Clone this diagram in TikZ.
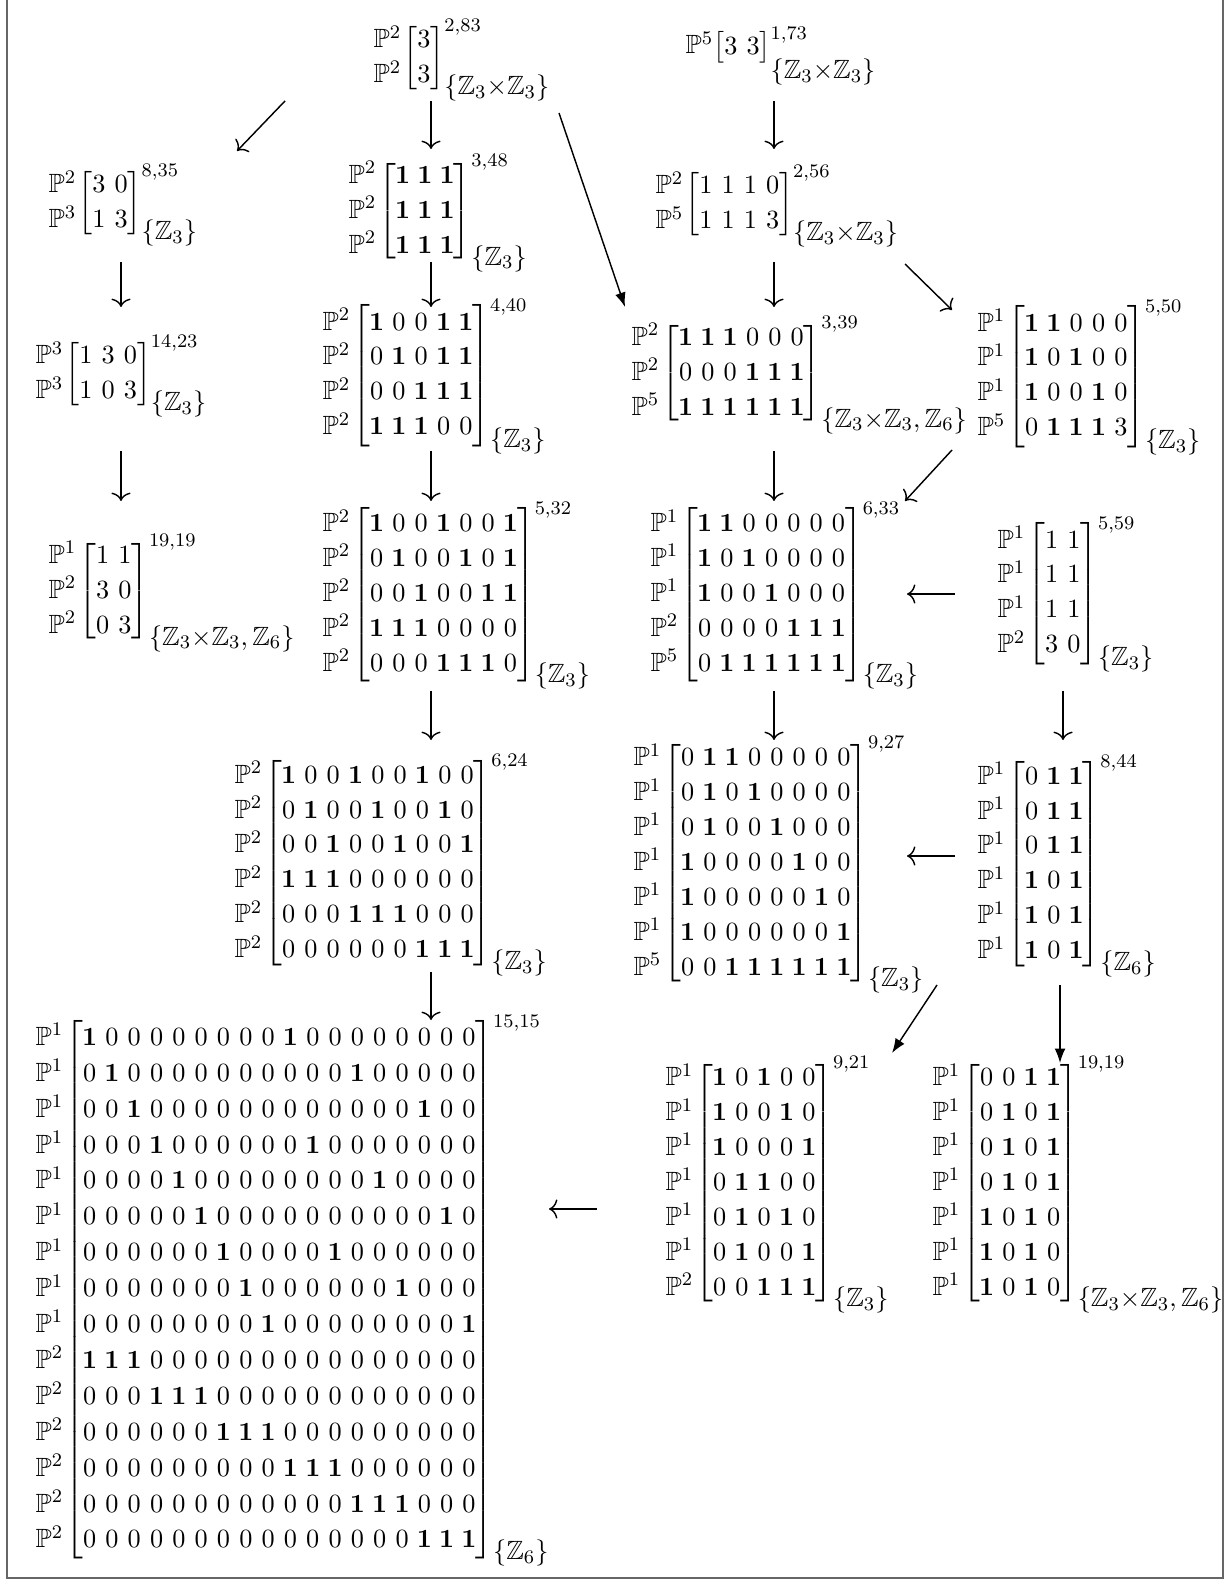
\documentclass[tikz,border=0pt]{standalone}
\usepackage{amsmath}
\usepackage{amsfonts}
\usetikzlibrary{arrows.meta}

\setcounter{MaxMatrixCols}{20}
\setlength{\arraycolsep}{1.9pt}
\renewcommand{\arraystretch}{1.07}
\newcommand{\PP}[1]{\mathbb{P}^{#1}}
\newcommand{\bone}{\hbox to .5em{\hss$\mathbf{1}$\hss}}
\newcommand{\Zt}{\mathbb{Z}_3}
\newcommand{\Zs}{\mathbb{Z}_6}
\newcommand{\cicy}[4]{$\begin{matrix}#1\end{matrix}\mkern-1.5mu\begin{bmatrix}#2\end{bmatrix}^{#3}_{\textstyle\{#4\}}$}

\begin{document}
\begin{tikzpicture}[x=0.4167pt, y=-0.4167pt, line width=0.6pt,
		>={To[length=3.5pt, width=8pt]},
		cy/.style={inner sep=0pt, anchor=base west, font=\fontsize{11pt}{13.6pt}\selectfont},
		headfill/.style={-{Latex[length=6pt, width=4.5pt]}}]
	\useasboundingbox (0,0) rectangle (1227,1579);
	\draw[black!60, line width=0.8pt] (7,-5) -- (7,1578) -- (1223,1578) -- (1223,-5);

	% first row
	\node[cy] (c283) at (373,65) {\cicy{\PP2\\\PP2}{3\\3}{2,83}{\Zt{\times}\Zt}};
	\node[cy] (c173) at (685,54) {$\PP5\bigl[\begin{matrix}3&3\end{matrix}\bigr]^{1,73}_{\textstyle\{\Zt{\times}\Zt\}\rule{0pt}{13pt}}$};

	% second row
	\node[cy] (c835) at (48,210) {\cicy{\PP2\\\PP3}{3&0\\1&3}{8,35}{\Zt}};
	\node[cy] (c348) at (348,218) {\cicy{\PP2\\\PP2\\\PP2}{\bone&\bone&\bone\\\bone&\bone&\bone\\\bone&\bone&\bone}{3,48}{\Zt}};
	\node[cy] (c256) at (655,211) {\cicy{\PP2\\\PP5}{1&1&1&0\\1&1&1&3}{2,56}{\Zt{\times}\Zt}};

	% third row
	\node[cy] (c1423) at (35,381) {\cicy{\PP3\\\PP3}{1&3&0\\1&0&3}{14,23}{\Zt}};
	\node[cy] (c440) at (322,382) {\cicy{\PP2\\\PP2\\\PP2\\\PP2}{
		\bone&0&0&\bone&\bone\\
		0&\bone&0&\bone&\bone\\
		0&0&\bone&\bone&\bone\\
		\bone&\bone&\bone&0&0}{4,40}{\Zt}};
	\node[cy] (c339) at (631,380) {\cicy{\PP2\\\PP2\\\PP5}{
		\bone&\bone&\bone&0&0&0\\
		0&0&0&\bone&\bone&\bone\\
		\bone&\bone&\bone&\bone&\bone&\bone}{3,39}{\Zt{\times}\Zt,\Zs}};
	\node[cy] (c550) at (977,383) {\cicy{\PP1\\\PP1\\\PP1\\\PP5}{
		\bone&\bone&0&0&0\\
		\bone&0&\bone&0&0\\
		\bone&0&0&\bone&0\\
		0&\bone&\bone&\bone&3}{5,50}{\Zt}};

	% fourth row
	\node[cy] (c1919) at (48,598) {\cicy{\PP1\\\PP2\\\PP2}{1&1\\3&0\\0&3}{19,19}{\Zt{\times}\Zt,\Zs}};
	\node[cy] (c532) at (322,601) {\cicy{\PP2\\\PP2\\\PP2\\\PP2\\\PP2}{
		\bone&0&0&\bone&0&0&\bone\\
		0&\bone&0&0&\bone&0&\bone\\
		0&0&\bone&0&0&\bone&\bone\\
		\bone&\bone&\bone&0&0&0&0\\
		0&0&0&\bone&\bone&\bone&0}{5,32}{\Zt}};
	\node[cy] (c633) at (650,601) {\cicy{\PP1\\\PP1\\\PP1\\\PP2\\\PP5}{
		\bone&\bone&0&0&0&0&0\\
		\bone&0&\bone&0&0&0&0\\
		\bone&0&0&\bone&0&0&0\\
		0&0&0&0&\bone&\bone&\bone\\
		0&\bone&\bone&\bone&\bone&\bone&\bone}{6,33}{\Zt}};
	\node[cy] (c559) at (997,600) {\cicy{\PP1\\\PP1\\\PP1\\\PP2}{1&1\\1&1\\1&1\\3&0}{5,59}{\Zt}};

	% fifth row
	\node[cy] (c624) at (234,870) {\cicy{\PP2\\\PP2\\\PP2\\\PP2\\\PP2\\\PP2}{
		\bone&0&0&\bone&0&0&\bone&0&0\\
		0&\bone&0&0&\bone&0&0&\bone&0\\
		0&0&\bone&0&0&\bone&0&0&\bone\\
		\bone&\bone&\bone&0&0&0&0&0&0\\
		0&0&0&\bone&\bone&\bone&0&0&0\\
		0&0&0&0&0&0&\bone&\bone&\bone}{6,24}{\Zt}};
	\node[cy] (c927) at (633,870) {\cicy{\PP1\\\PP1\\\PP1\\\PP1\\\PP1\\\PP1\\\PP5}{
		0&\bone&\bone&0&0&0&0&0\\
		0&\bone&0&\bone&0&0&0&0\\
		0&\bone&0&0&\bone&0&0&0\\
		\bone&0&0&0&0&\bone&0&0\\
		\bone&0&0&0&0&0&\bone&0\\
		\bone&0&0&0&0&0&0&\bone\\
		0&0&\bone&\bone&\bone&\bone&\bone&\bone}{9,27}{\Zt}};
	\node[cy] (c844) at (977,871) {\cicy{\PP1\\\PP1\\\PP1\\\PP1\\\PP1\\\PP1}{
		0&\bone&\bone\\0&\bone&\bone\\0&\bone&\bone\\
		\bone&0&\bone\\\bone&0&\bone\\\bone&0&\bone}{8,44}{\Zs}};

	% last row
	\node[cy] (c1515) at (35,1296) {\renewcommand{\arraystretch}{1.1}\cicy{\PP1\\\PP1\\\PP1\\\PP1\\\PP1\\\PP1\\\PP1\\\PP1\\\PP1\\\PP2\\\PP2\\\PP2\\\PP2\\\PP2\\\PP2}{
		\bone&0&0& 0&0&0& 0&0&0& \bone&0&0& 0&0&0& 0&0&0\\
		0&\bone&0& 0&0&0& 0&0&0& 0&0&0& \bone&0&0& 0&0&0\\
		0&0&\bone& 0&0&0& 0&0&0& 0&0&0& 0&0&0& \bone&0&0\\
		0&0&0& \bone&0&0& 0&0&0& 0&\bone&0& 0&0&0& 0&0&0\\
		0&0&0& 0&\bone&0& 0&0&0& 0&0&0& 0&\bone&0& 0&0&0\\
		0&0&0& 0&0&\bone& 0&0&0& 0&0&0& 0&0&0& 0&\bone&0\\
		0&0&0& 0&0&0& \bone&0&0& 0&0&\bone& 0&0&0& 0&0&0\\
		0&0&0& 0&0&0& 0&\bone&0& 0&0&0& 0&0&\bone& 0&0&0\\
		0&0&0& 0&0&0& 0&0&\bone& 0&0&0& 0&0&0& 0&0&\bone\\
		\bone&\bone&\bone& 0&0&0& 0&0&0& 0&0&0& 0&0&0& 0&0&0\\
		0&0&0& \bone&\bone&\bone& 0&0&0& 0&0&0& 0&0&0& 0&0&0\\
		0&0&0& 0&0&0& \bone&\bone&\bone& 0&0&0& 0&0&0& 0&0&0\\
		0&0&0& 0&0&0& 0&0&0& \bone&\bone&\bone& 0&0&0& 0&0&0\\
		0&0&0& 0&0&0& 0&0&0& 0&0&0& \bone&\bone&\bone& 0&0&0\\
		0&0&0& 0&0&0& 0&0&0& 0&0&0& 0&0&0& \bone&\bone&\bone}{15,15}{\Zs}};
	\node[cy] (c921) at (665,1190) {\cicy{\PP1\\\PP1\\\PP1\\\PP1\\\PP1\\\PP1\\\PP2}{
		\bone&0&\bone&0&0\\
		\bone&0&0&\bone&0\\
		\bone&0&0&0&\bone\\
		0&\bone&\bone&0&0\\
		0&\bone&0&\bone&0\\
		0&\bone&0&0&\bone\\
		0&0&\bone&\bone&\bone}{9,21}{\Zt}};
	\node[cy] (c1919b) at (932,1190) {\cicy{\PP1\\\PP1\\\PP1\\\PP1\\\PP1\\\PP1\\\PP1}{
		0&0&\bone&\bone\\
		0&\bone&0&\bone\\0&\bone&0&\bone\\0&\bone&0&\bone\\
		\bone&0&\bone&0\\\bone&0&\bone&0\\\bone&0&\bone&0}{19,19}{\Zt{\times}\Zt,\Zs}};

	% arrows
	\draw[->] ([shift={(-88,36)}]c283.base west) -- ([shift={(189,-59)}]c835.base west);
	\draw[->] ([shift={(58,36)}]c283.base west) -- ([shift={(83,-69)}]c348.base west);
	\draw[headfill] ([shift={(186,48)}]c283.base west) -- ([shift={(-6,-73)}]c339.base west);
	\draw[->] ([shift={(89,47)}]c173.base west) -- ([shift={(119,-62)}]c256.base west);
	\draw[->] ([shift={(73,52)}]c835.base west) -- ([shift={(86,-74)}]c1423.base west);
	\draw[->] ([shift={(83,44)}]c348.base west) -- ([shift={(109,-75)}]c440.base west);
	\draw[->] ([shift={(119,51)}]c256.base west) -- ([shift={(143,-73)}]c339.base west);
	\draw[->] ([shift={(250,53)}]c256.base west) -- ([shift={(-25,-73)}]c550.base west);
	\draw[->] ([shift={(86,70)}]c1423.base west) -- ([shift={(73,-97)}]c1919.base west);
	\draw[->] ([shift={(109,69)}]c440.base west) -- ([shift={(109,-100)}]c532.base west);
	\draw[->] ([shift={(143,71)}]c339.base west) -- ([shift={(124,-100)}]c633.base west);
	\draw[->] ([shift={(-25,67)}]c550.base west) -- ([shift={(255,-100)}]c633.base west);
	\draw[->] ([shift={(-42,-6)}]c559.base west) -- ([shift={(257,-7)}]c633.base west);
	\draw[->] ([shift={(109,90)}]c532.base west) -- ([shift={(197,-130)}]c624.base west);
	\draw[->] ([shift={(124,90)}]c633.base west) -- ([shift={(141,-130)}]c927.base west);
	\draw[->] ([shift={(66,91)}]c559.base west) -- ([shift={(86,-131)}]c844.base west);
	\draw[->] ([shift={(-22,-15)}]c844.base west) -- ([shift={(274,-14)}]c927.base west);
	\draw[->] ([shift={(197,102)}]c624.base west) -- ([shift={(396,-276)}]c1515.base west);
	\draw[headfill] ([shift={(-40,114)}]c844.base west) -- ([shift={(227,-137)}]c921.base west);
	\draw[headfill] ([shift={(83,114)}]c844.base west) -- ([shift={(128,-127)}]c1919b.base west);
	\draw[->] ([shift={(-68,19)}]c921.base west) -- ([shift={(514,-87)}]c1515.base west);
\end{tikzpicture}
\end{document}
